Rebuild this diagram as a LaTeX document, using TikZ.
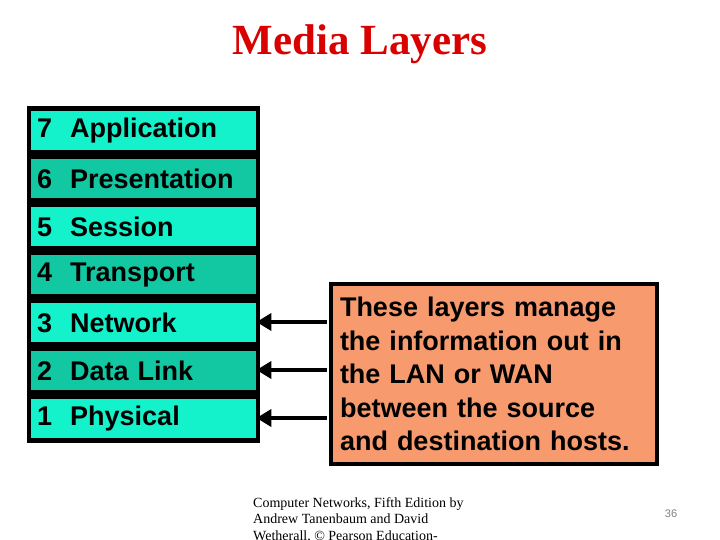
\documentclass[tikz,border=0pt]{standalone}
\usepackage{fontspec}
\setmainfont{Liberation Serif}
\newfontfamily\arial{Liberation Sans}
\begin{document}
\begin{tikzpicture}[x=1pt,y=-1pt,
  layer/.style={anchor=north west,minimum width=225pt,minimum height=39pt,inner sep=0pt,inner xsep=6pt,text width=213pt,align=left,font=\arial\bfseries\fontsize{27}{30}\selectfont},
  lite/.style={layer,fill=lightc},
  dark/.style={layer,fill=darkc},
  arr/.style={line width=4pt,-{Triangle[length=15pt,width=17pt]}}]
\definecolor{lightc}{HTML}{14F2CC}
\definecolor{darkc}{HTML}{12C8A2}
\definecolor{boxc}{HTML}{F79A6E}
\usetikzlibrary{arrows.meta}
\clip (0,0) rectangle (720,540);
\fill[white] (0,0) rectangle (720,540);
\node[font=\bfseries\fontsize{43}{46}\selectfont,text=red!85!black] (title) at (360,44) {Media Layers};
\fill[black] (27,106) rectangle (260,443);
\node[lite] (l7) at (31,111) {7\ \ Application};
\node[dark] (l6) at (31,159) {6\ \ Presentation};
\node[lite] (l5) at (31,207) {5\ \ Session};
\node[dark] (l4) at (31,255) {4\ \ Transport};
\node[lite] (l3) at (31,303) {3\ \ Network};
\node[dark] (l2) at (31,351) {2\ \ Data Link};
\node[lite] (l1) at (31,399) {1\ \ Physical};
\node[draw=black,line width=4pt,fill=boxc,anchor=north west,minimum width=326pt,minimum height=180pt,inner sep=0pt,inner xsep=9pt,text width=308pt,align=left,font=\arial\bfseries\fontsize{27}{33.5}\selectfont] (box) at (329,282)
 {These layers manage\\the information out in\\the LAN or WAN\\between the source\\and destination hosts.};
\coordinate (a3) at (327,322); \coordinate (a2) at (327,370); \coordinate (a1) at (327,418);
\draw[arr] (a3) -- (l3.east|-a3);
\draw[arr] (a2) -- (l2.east|-a2);
\draw[arr] (a1) -- (l1.east|-a1);
\node[anchor=north west,align=left,font=\fontsize{14}{16.5}\selectfont,inner sep=0pt] (foot) at (253,497) {Computer Networks, Fifth Edition by\\Andrew Tanenbaum and David\\Wetherall, © Pearson Education-};
\node[font=\arial\fontsize{11}{13}\selectfont,text=gray] (pg) at (671,514) {36};
\end{tikzpicture}
\end{document}
